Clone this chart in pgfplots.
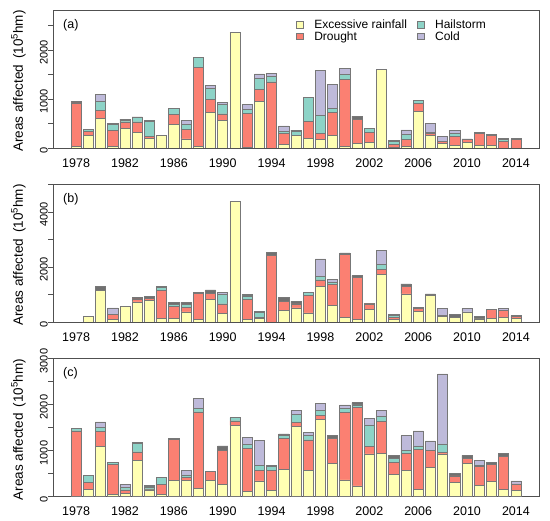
\documentclass[border=0pt]{standalone}
\usepackage{pgfplots}
\pgfplotsset{compat=1.18}
\usepackage{pgfplotstable}
\usepackage{fontspec}
\setmainfont{Liberation Sans}
\definecolor{cRain}{HTML}{FFFFB3}
\definecolor{cDrought}{HTML}{FB8072}
\definecolor{cHail}{HTML}{8DD3C7}
\definecolor{cCold}{HTML}{BEBADA}
\definecolor{cOther}{HTML}{707070}
\definecolor{cEdge}{HTML}{777777}
\definecolor{cAxis}{HTML}{505050}

\pgfplotstableread{
year rain drought hail cold other
1978 30 890 0 0 40
1979 250 85 45 0 0
1980 605 157 183 150 0
1981 40 315 120 0 20
1982 395 140 35 0 20
1983 325 210 90 0 10
1984 190 40 320 0 20
1985 260 0 0 0 0
1986 475 210 120 0 0
1987 185 195 110 75 0
1988 25 1615 205 0 0
1989 730 265 215 62 0
1990 560 135 195 40 0
1991 2370 0 0 0 0
1992 15 690 80 100 0
1993 945 245 225 100 0
1994 0 1350 105 75 0
1995 78 225 40 110 0
1996 250 0 95 0 20
1997 195 350 488 0 0
1998 168 135 362 928 0
1999 250 473 90 482 0
2000 40 1365 105 110 0
2001 100 490 0 0 60
2002 115 210 70 0 0
2003 1610 0 0 0 0
2004 20 60 60 0 20
2005 30 150 90 100 0
2006 750 155 60 0 0
2007 250 50 20 185 0
2008 90 45 0 100 0
2009 45 190 70 55 0
2010 120 50 0 0 15
2011 55 250 0 0 20
2012 50 210 0 0 20
2013 0 135 35 0 20
2014 0 170 0 20 0
}\dataA

\pgfplotstableread{
year rain drought hail cold other
1978 0 0 0 0 0
1979 210 0 0 0 0
1980 1150 0 0 0 140
1981 80 190 0 240 0
1982 580 0 0 0 0
1983 730 110 0 0 60
1984 800 70 0 0 60
1985 120 1020 120 0 35
1986 145 435 70 0 60
1987 365 155 110 0 95
1988 105 925 0 0 60
1989 820 230 0 0 120
1990 300 355 335 95 0
1991 4390 0 0 0 0
1992 100 710 140 0 40
1993 130 40 170 0 60
1994 0 2420 0 0 100
1995 415 320 0 0 165
1996 510 150 0 0 90
1997 328 630 110 0 0
1998 1300 230 140 622 0
1999 605 762 78 115 0
2000 170 2290 0 0 50
2001 85 1550 0 0 50
2002 470 185 0 0 35
2003 1745 180 160 530 0
2004 85 85 60 0 60
2005 1020 280 0 0 85
2006 375 110 0 0 35
2007 960 0 0 0 60
2008 205 35 0 245 0
2009 180 0 0 0 110
2010 365 0 0 120 0
2011 110 0 0 0 85
2012 145 300 0 0 25
2013 170 240 0 95 0
2014 120 75 0 0 35
}\dataB

\pgfplotstableread{
year rain drought hail cold other
1978 0 1425 55 0 0
1979 160 145 160 0 0
1980 1085 325 85 125 0
1981 50 645 55 0 0
1982 70 75 55 65 0
1983 790 180 190 0 20
1984 145 20 45 0 30
1985 50 210 150 0 0
1986 355 890 0 0 15
1987 355 55 60 100 0
1988 180 1660 75 210 0
1989 355 190 0 0 0
1990 260 745 0 0 95
1991 1545 100 70 0 0
1992 115 935 85 150 0
1993 340 225 115 545 0
1994 140 435 80 0 15
1995 595 675 60 0 30
1996 1520 95 175 85 0
1997 560 670 95 65 0
1998 1680 75 110 165 0
1999 725 530 0 0 70
2000 360 1470 90 70 0
2001 230 1700 60 0 50
2002 925 160 470 145 0
2003 940 700 95 140 0
2004 485 260 85 0 60
2005 560 370 65 325 0
2006 160 870 70 325 0
2007 640 355 0 215 0
2008 925 30 190 1520 0
2009 310 140 0 0 60
2010 725 110 0 0 60
2011 240 410 35 95 0
2012 325 375 0 0 50
2013 160 710 0 0 70
2014 125 150 0 65 0
}\dataC

\tikzset{panlabel/.style={anchor=west, inner sep=0pt, font=\fontsize{12.5bp}{14bp}\selectfont}}

\pgfplotsset{
  panel/.style={
    scale only axis, width=486bp, height=138bp,
    xmin=1976.11, xmax=2015.89, ymin=0,
    ybar stacked, bar width=0.8333,
    font=\fontsize{12bp}{14bp}\selectfont,
    /pgf/number format/assume math mode=true,
    axis line style={cAxis, line width=0.7bp},
    xtick={1978,1982,...,2014},
    xticklabels={1978,1982,1986,1990,1994,1998,2002,2006,2010,2014},
    xtick style={draw=none},
    xticklabel style={inner sep=0pt, yshift=-5.5bp, font=\fontsize{12.5bp}{14bp}\selectfont},
    ytick pos=left,
    tick align=outside,
    major tick length=5bp,
    ytick style={cAxis, line width=0.7bp},
    yticklabel style={rotate=90, anchor=south, inner sep=0pt, xshift=-2.5bp, font=\fontsize{11bp}{13bp}\selectfont},
    ylabel={Areas affected\hspace{0.45em}(10\textsuperscript{5}hm)},
    ylabel style={at={(axis description cs:-0.071,0.485)}, anchor=center, inner sep=0pt, font=\fontsize{13.5bp}{15bp}\selectfont},
    every axis plot/.append style={draw=cEdge, line width=0.6bp},
    legend image code/.code={\draw[#1] (0bp,-3bp) rectangle (6.5bp,3.5bp);},
  },
}

\newcommand{\bars}[1]{%
  \addplot[fill=cRain, forget plot] table[x=year, y=rain]{#1};
  \addplot[fill=cDrought, forget plot] table[x=year, y=drought]{#1};
  \addplot[fill=cHail, forget plot] table[x=year, y=hail]{#1};
  \addplot[fill=cCold, forget plot] table[x=year, y=cold]{#1};
  \addplot[fill=cOther, forget plot] table[x=year, y=other]{#1};
}

\begin{document}
\begin{tikzpicture}
\useasboundingbox (0,0) rectangle (550bp,521bp);

\begin{axis}[panel, at={(53bp,373bp)}, anchor=south west,
  ymax=2820, ytick={0,500,1000,1500,2000,2500},
  yticklabels={0,,1000,,2000,},
  legend columns=2,
  legend style={at={(axis description cs:0.5,0.935)}, anchor=north west,
    draw=none, fill=none, inner sep=0pt, row sep=0bp,
    font=\fontsize{12bp}{14bp}\selectfont,
    nodes={inner xsep=3bp, inner ysep=0.7bp},
    /tikz/every odd column/.append style={column sep=8bp},
    /tikz/every even column/.append style={column sep=7bp}},
  legend cell align=left]
\bars{\dataA}
\addlegendimage{fill=cRain, draw=cEdge}
\addlegendimage{fill=cHail, draw=cEdge}
\addlegendimage{fill=cDrought, draw=cEdge}
\addlegendimage{fill=cCold, draw=cEdge}
\legend{Excessive rainfall, Hailstorm, Drought, Cold}
\node[panlabel] at (rel axis cs:0.0206,0.891) {(a)};
\end{axis}

\begin{axis}[panel, at={(53bp,199bp)}, anchor=south west,
  ymax=5020, ytick={0,1000,2000,3000,4000,5000},
  yticklabels={0,,2000,,4000,}]
\bars{\dataB}
\node[panlabel] at (rel axis cs:0.0206,0.891) {(b)};
\end{axis}

\begin{axis}[panel, at={(53bp,24.5bp)}, anchor=south west,
  ymax=3000, ytick={0,500,1000,1500,2000,2500,3000},
  yticklabels={0,,1000,,2000,,3000}]
\bars{\dataC}
\node[panlabel] at (rel axis cs:0.0206,0.891) {(c)};
\end{axis}
\end{tikzpicture}
\end{document}
